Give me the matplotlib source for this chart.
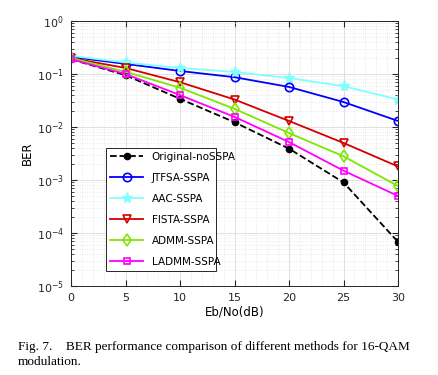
import numpy as np
import matplotlib.pyplot as plt
from matplotlib.ticker import LogLocator, NullFormatter, MultipleLocator

# Eb/No axis
ebno = [0, 5, 10, 15, 20, 25, 30]

# BER values
ber_orig = [0.19, 0.095, 0.034, 0.0123, 0.0039, 0.0009, 0.000068]
ber_jtfsa = [0.21, 0.155, 0.114, 0.087, 0.057, 0.0296, 0.013]
ber_aac = [0.22, 0.165, 0.13, 0.109, 0.084, 0.059, 0.033]
ber_fista = [0.20, 0.13, 0.07, 0.033, 0.013, 0.005, 0.0018]
ber_admm = [0.20, 0.11, 0.055, 0.022, 0.0077, 0.0028, 0.00077]
ber_ladmm = [0.19, 0.10, 0.04, 0.0155, 0.0052, 0.0015, 0.0005]

labels = ["Original-noSSPA", "JTFSA-SSPA", "AAC-SSPA",
          "FISTA-SSPA", "ADMM-SSPA", "LADMM-SSPA"]

fig = plt.figure(figsize=(4.38, 3.75), dpi=100)
ax = fig.add_axes([71/438, 1 - 286/375, 327/438, 265/375])

ax.semilogy(ebno, ber_orig, "k--", marker="o", ms=4.5, mfc="k", lw=1.3, label=labels[0])
ax.semilogy(ebno, ber_jtfsa, color="#0000ff", marker="o", ms=6, mfc="none", mew=1.2, lw=1.3, label=labels[1])
ax.semilogy(ebno, ber_aac, color="#80ffff", marker="*", ms=8, mfc="#80ffff", lw=1.3, label=labels[2])
ax.semilogy(ebno, ber_fista, color="#d40000", marker="v", ms=6, mfc="none", mew=1.2, lw=1.3, label=labels[3])
ax.semilogy(ebno, ber_admm, color="#7fe600", marker="d", ms=6, mfc="none", mew=1.2, lw=1.3, label=labels[4])
ax.semilogy(ebno, ber_ladmm, color="#ff00ff", marker="s", ms=5, mfc="none", mew=1.2, lw=1.3, label=labels[5])

ax.set_xlim(0, 30)
ax.set_ylim(1e-5, 1)
ax.set_xticks(ebno)
ax.xaxis.set_minor_locator(MultipleLocator(1))
ax.yaxis.set_major_locator(LogLocator(base=10, numticks=10))
ax.yaxis.set_minor_locator(LogLocator(base=10, subs=np.arange(2, 10), numticks=50))
ax.yaxis.set_minor_formatter(NullFormatter())

ax.grid(True, which="major", color="#e0e0e0", lw=0.7)
ax.grid(True, which="minor", color="#e3e3e3", ls=":", lw=0.6)
ax.tick_params(which="both", direction="in", top=True, right=True, labelsize=8, colors="#262626")
ax.tick_params(which="major", length=4, pad=5)
ax.tick_params(which="minor", length=2)
ax.tick_params(axis="x", which="minor", length=0)
for s in ax.spines.values():
    s.set_color("#262626")
    s.set_linewidth(0.7)

ax.set_xlabel("Eb/No(dB)", fontsize=8.5, labelpad=2)
ax.set_ylabel("BER", fontsize=8.5, labelpad=2)

leg = ax.legend(loc="lower left", bbox_to_anchor=(0.107, 0.057, 0.336, 0.483),
                mode="expand", fontsize=7.5, handlelength=3.2, borderaxespad=0,
                fancybox=False, edgecolor="#262626", framealpha=1, labelspacing=1.05)
leg.get_frame().set_linewidth(0.7)

fig.text(18/438, 1 - 347/375, "Fig. 7.    BER performance comparison of different methods for 16-QAM",
         family="Liberation Serif", fontsize=9.5, va="center")
fig.text(18/438, 1 - 362/375, "modulation.", family="Liberation Serif", fontsize=9.5, va="center")

fig.savefig("out.png", dpi=100)
